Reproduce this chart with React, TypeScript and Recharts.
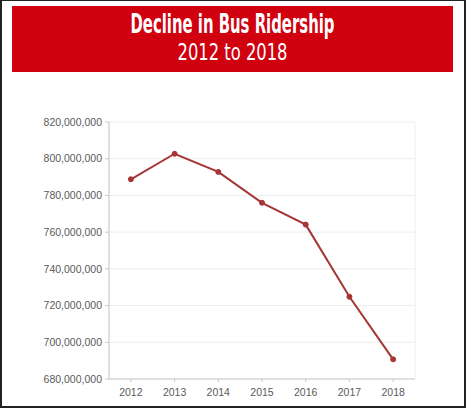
import { CartesianGrid, Line, LineChart, XAxis, YAxis } from 'recharts';

const years = [2012, 2013, 2014, 2015, 2016, 2017, 2018];
const riders = [788800000, 802700000, 792800000, 776000000, 764100000, 724800000, 690700000];
const yTicks = [680000000, 700000000, 720000000, 740000000, 760000000, 780000000, 800000000, 820000000];

const data = years.map((year, i) => ({ year, riders: riders[i] }));

// grid lines sit between the years, like a band axis
const bandEdges = [...years.map((y) => y - 0.5), years[years.length - 1] + 0.5];
const xDomain = [bandEdges[0], bandEdges[bandEdges.length - 1]];

const tickStyle = { fontFamily: 'Liberation Sans, Arial, sans-serif', fontSize: 10.5, fill: '#5a5a5a' };

export default function App() {
  return (
    <div
      style={{
        position: 'absolute',
        left: 0,
        top: 0,
        width: 466,
        height: 408,
        boxSizing: 'border-box',
        border: '2px solid #222',
        borderTopWidth: 1,
        background: '#fff',
      }}
    >
      <svg width={441} height={66} style={{ position: 'absolute', left: 10, top: 5 }}>
        <rect x={0} y={0} width={441} height={66} fill="#d0000f" />
        <text
          x={220.5}
          y={27}
          textAnchor="middle"
          fill="#fff"
          fontFamily="Liberation Sans Narrow, DejaVu Sans Condensed, sans-serif"
          fontWeight="bold"
          fontSize={26}
          textLength={204}
          lengthAdjust="spacingAndGlyphs"
        >
          Decline in Bus Ridership
        </text>
        <text
          x={220.5}
          y={54}
          textAnchor="middle"
          fill="#fff"
          fontFamily="Liberation Sans Narrow, DejaVu Sans Condensed, sans-serif"
          fontSize={23}
          textLength={110}
          lengthAdjust="spacingAndGlyphs"
        >
          2012 to 2018
        </text>
      </svg>
      <div style={{ position: 'absolute', left: -2, top: -1 }}>
        <LineChart width={466} height={409} data={data} margin={{ top: 122, right: 51, bottom: 0, left: 0 }}>
          <XAxis xAxisId="grid" type="number" domain={xDomain} ticks={bandEdges} hide />
          <CartesianGrid xAxisId="grid" stroke="#eeeeee" />
          <XAxis
            dataKey="year"
            type="number"
            domain={xDomain}
            ticks={years}
            interval={0}
            height={30}
            tick={tickStyle}
            tickSize={3}
            tickMargin={7}
            stroke="#c8c8c8"
          />
          <YAxis
            domain={[yTicks[0], yTicks[yTicks.length - 1]]}
            ticks={yTicks}
            interval={0}
            width={109}
            tick={tickStyle}
            tickSize={4}
            tickMargin={3}
            stroke="#c8c8c8"
            tickFormatter={(v: number) => v.toLocaleString('en-US')}
          />
          <Line
            type="linear"
            dataKey="riders"
            stroke="#a63535"
            strokeWidth={2}
            dot={{ r: 2.5, fill: '#a63535', stroke: '#a63535', strokeWidth: 1 }}
            isAnimationActive={false}
          />
        </LineChart>
      </div>
    </div>
  );
}
